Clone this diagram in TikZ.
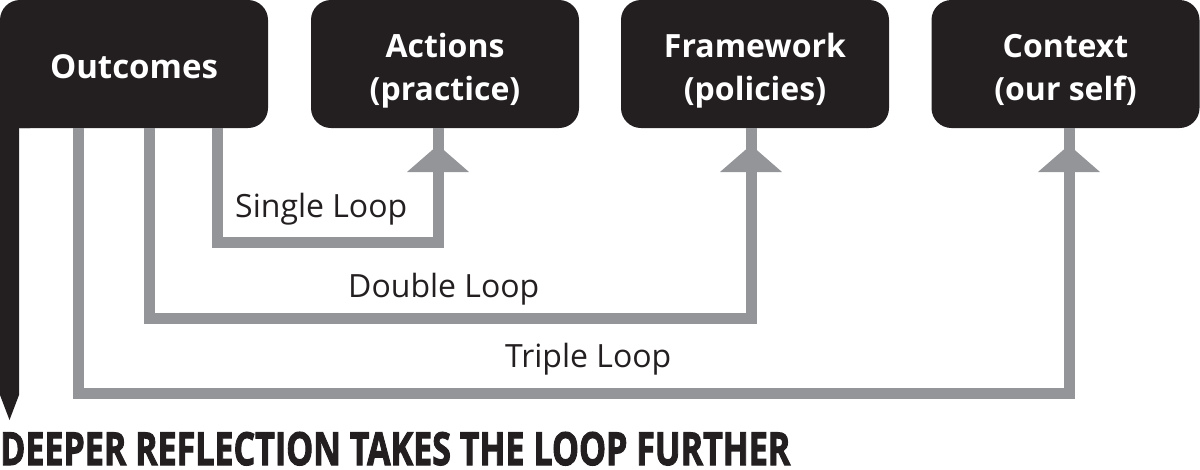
\documentclass[tikz,border=0pt]{standalone}
\usepackage{fontspec}
\usepackage{graphicx}
\setmainfont{Open Sans}
\newfontfamily\titlefont{Open Sans}[FakeBold=2.5]
\definecolor{loopgray}{HTML}{939598}
\definecolor{boxblack}{HTML}{231F20}
\begin{document}
\begin{tikzpicture}[x=1pt,y=-1pt,
  box/.style={fill=boxblack, rounded corners=20pt, minimum width=268pt, minimum height=128pt, inner sep=0pt},
  boxtext/.style={text=white, font=\bfseries\fontsize{32}{38}\selectfont, anchor=base, inner sep=0pt},
  loopline/.style={draw=loopgray, line width=11pt},
  looplabel/.style={font=\fontsize{32}{38}\selectfont, text=boxblack, anchor=base west, inner sep=0pt}]
\useasboundingbox (0,0) rectangle (1200,469);
% boxes
\node[box] (out) at (134,64) {};
\node[box] (act) at (445,64) {};
\node[box] (frm) at (755,64) {};
\node[box] (ctx) at (1065.5,64) {};
% box texts
\node[boxtext, font=\bfseries\fontsize{33}{38}\selectfont] (outT) at (134,78) {Outcomes};
\node[boxtext] (actT1) at (445,57) {Actions};
\node[boxtext] (actT2) at (445,100) {(practice)};
\node[boxtext] (frmT1) at (755,57) {Framework};
\node[boxtext] (frmT2) at (755,100) {(policies)};
\node[boxtext] (ctxT1) at (1065.5,57) {Context};
\node[boxtext] (ctxT2) at (1065.5,100) {(our self)};
% stem of Outcomes
\fill[boxblack] (0,100) -- (0,395) -- (9.5,420) -- (19,395) -- (19,128) -- (30,128) -- (30,100) -- cycle;
% loops
\coordinate (c1) at (438,242);
\coordinate (c2) at (751,318);
\coordinate (c3) at (1069,393);
\draw[loopline] ([xshift=83.5pt]out.south) |- (c1) -- (c1 |- act.south);
\draw[loopline] ([xshift=15.5pt]out.south) |- (c2) -- (c2 |- frm.south);
\draw[loopline] ([xshift=-55.5pt]out.south) |- (c3) -- (c3 |- ctx.south);
% arrowheads
\fill[loopgray] (407,172) -- (438,145) -- (469,172) -- cycle;
\fill[loopgray] (720,172) -- (751,145) -- (782,172) -- cycle;
\fill[loopgray] (1038,172) -- (1069,145) -- (1100,172) -- cycle;
% labels
\node[looplabel] (l1) at (235,217) {Single Loop};
\node[looplabel] (l2) at (348,297) {Double Loop};
\node[looplabel] (l3) at (505,367) {Triple Loop};
\node[anchor=base west, inner sep=0pt, text=boxblack] (title) at (0,465)
  {\resizebox{790pt}{33pt}{\titlefont\bfseries DEEPER REFLECTION TAKES THE LOOP FURTHER}};
\end{tikzpicture}
\end{document}
